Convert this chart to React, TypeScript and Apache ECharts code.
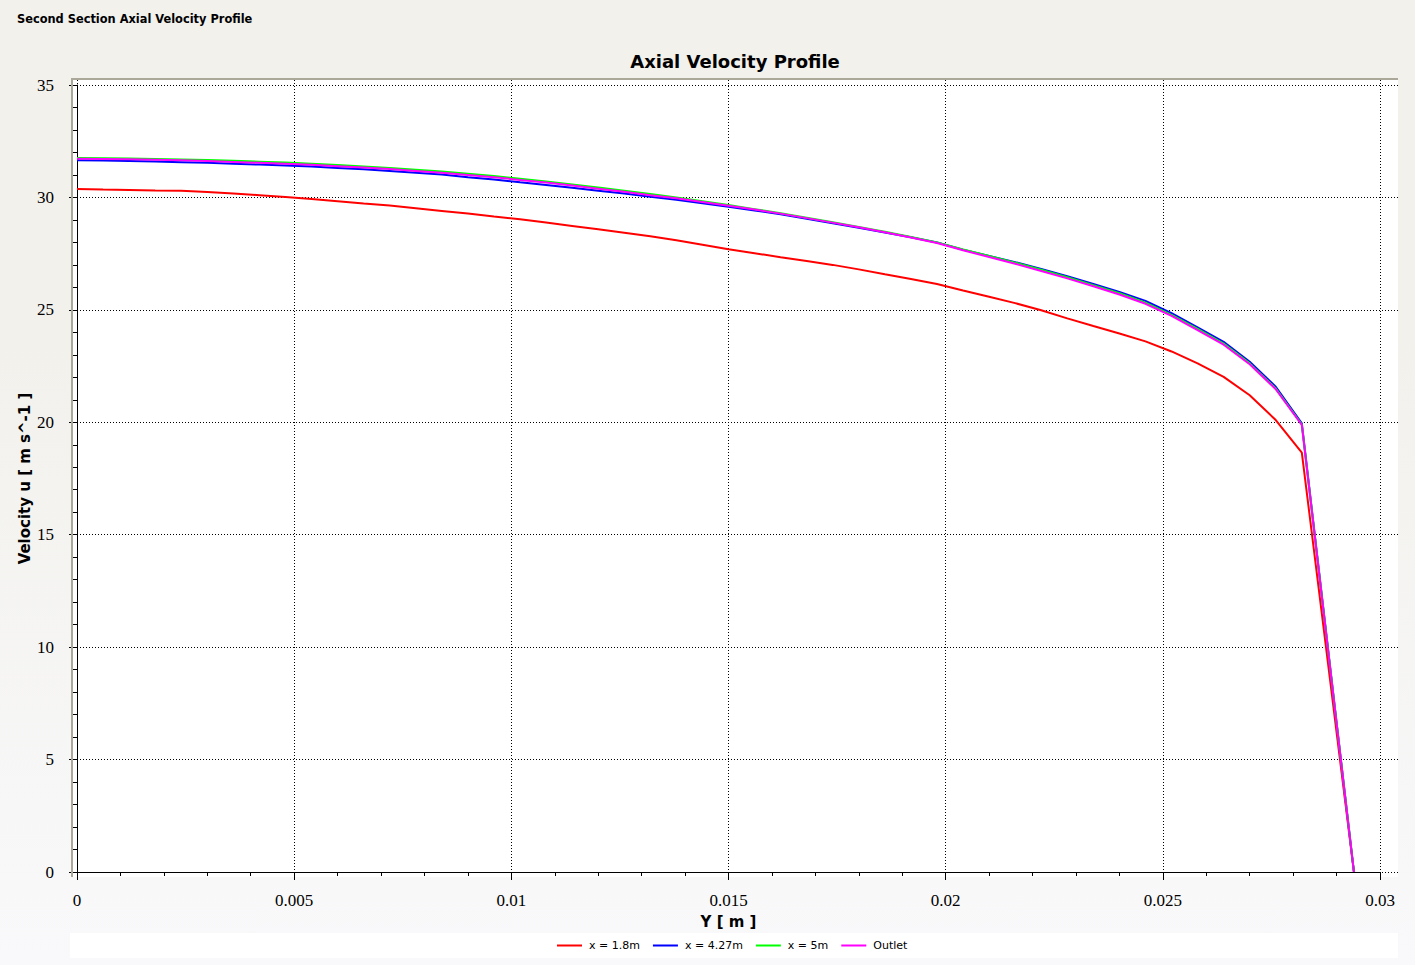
import React, { useEffect, useRef } from "react";
import * as echarts from "echarts";

// Y positions [m]
const Y_POS: number[] = [
  0, 0.0006, 0.0012, 0.0018, 0.0024, 0.003, 0.0036, 0.0042, 0.0048, 0.0054,
  0.006, 0.0066, 0.0072, 0.0078, 0.0084, 0.009, 0.0096, 0.0102, 0.0108, 0.0114,
  0.012, 0.0126, 0.0132, 0.0138, 0.0144, 0.015, 0.0156, 0.0162, 0.0168, 0.0174,
  0.018, 0.0186, 0.0192, 0.0198, 0.0204, 0.021, 0.0216, 0.0222, 0.0228, 0.0234,
  0.024, 0.0246, 0.0252, 0.0258, 0.0264, 0.027, 0.0276, 0.0282, 0.0294,
];

const U_1_8: number[] = [
  30.38, 30.35, 30.33, 30.31, 30.3, 30.24, 30.18, 30.1, 30.02, 29.93,
  29.83, 29.73, 29.64, 29.52, 29.4, 29.28, 29.15, 29.03, 28.88, 28.73,
  28.58, 28.43, 28.27, 28.1, 27.9, 27.7, 27.52, 27.34, 27.17, 27.0,
  26.8, 26.58, 26.37, 26.15, 25.86, 25.58, 25.3, 24.98, 24.62, 24.28,
  23.95, 23.6, 23.15, 22.62, 22.02, 21.2, 20.1, 18.65, 0,
];

const U_4_27: number[] = [
  31.65, 31.64, 31.62, 31.6, 31.57, 31.54, 31.5, 31.46, 31.42, 31.37,
  31.31, 31.25, 31.18, 31.1, 31.02, 30.9, 30.8, 30.67, 30.55, 30.43,
  30.3, 30.17, 30.03, 29.9, 29.74, 29.58, 29.42, 29.25, 29.05, 28.85,
  28.65, 28.44, 28.23, 28.0, 27.67, 27.4, 27.12, 26.82, 26.5, 26.15,
  25.8, 25.4, 24.85, 24.22, 23.58, 22.69, 21.58, 19.95, 0,
];

const U_5: number[] = [
  31.75, 31.74, 31.73, 31.71, 31.69, 31.66, 31.63, 31.59, 31.55, 31.5,
  31.44, 31.38, 31.31, 31.23, 31.15, 31.05, 30.95, 30.83, 30.71, 30.58,
  30.44, 30.3, 30.15, 30.0, 29.83, 29.66, 29.48, 29.3, 29.1, 28.9,
  28.69, 28.47, 28.24, 28.0, 27.69, 27.4, 27.1, 26.78, 26.45, 26.1,
  25.74, 25.32, 24.78, 24.15, 23.5, 22.62, 21.5, 19.9, 0,
];

const U_OUTLET: number[] = [
  31.72, 31.71, 31.7, 31.68, 31.65, 31.62, 31.58, 31.54, 31.5, 31.45,
  31.39, 31.33, 31.26, 31.18, 31.1, 31.0, 30.9, 30.78, 30.66, 30.53,
  30.39, 30.25, 30.1, 29.96, 29.8, 29.63, 29.46, 29.28, 29.08, 28.88,
  28.67, 28.45, 28.22, 27.97, 27.65, 27.35, 27.05, 26.73, 26.4, 26.05,
  25.68, 25.27, 24.73, 24.1, 23.45, 22.58, 21.47, 19.88, 0,
];

const SERIES_NAMES: string[] = ["x = 1.8m", "x = 4.27m", "x = 5m", "Outlet"];
const SERIES_COLORS: string[] = ["#ff0000", "#0000ff", "#00ff00", "#ff00ff"];
const SERIES_VALUES: number[][] = [U_1_8, U_4_27, U_5, U_OUTLET];

const X_MIN = 0;
const X_MAX = 0.03;
const X_STEP = 0.005;
const Y_MIN = 0;
const Y_MAX = 35;
const Y_STEP = 5;

const TITLE = "Axial Velocity Profile";
const WINDOW_TITLE = "Second Section Axial Velocity Profile";
const X_NAME = "Y [ m ]";
const Y_NAME = "Velocity u [ m s^-1 ]";

export default function App() {
  const ref = useRef<HTMLDivElement>(null);

  useEffect(() => {
    if (!ref.current) return;
    const chart = echarts.init(ref.current, null, { renderer: "svg" });

    // layout (pixels)
    const W = 1415;
    const H = 965;
    const boxL = 72, boxR = 1398, boxT = 79, boxB = 877;
    const plotL = 77, plotR = 1380, plotT = 85, plotB = 872;
    const gridTopA = 80;
    // extended ranges so that grid A reaches the box edges
    const xMaxA = X_MAX * (boxR - plotL) / (plotR - plotL);
    const yMaxA = Y_MAX * (plotB - gridTopA) / (plotB - plotT);

    const sansBold = "DejaVu Sans";
    const tickFont = "Liberation Serif";

    const option: any = {
      animation: false,
      backgroundColor: "transparent",
      textStyle: { fontFamily: sansBold },
      graphic: [
        { type: "rect", z: -10, shape: { x: boxL, y: boxT, width: boxR - boxL, height: boxB - boxT }, style: { fill: "#ffffff" } },
        { type: "rect", z: 10, shape: { x: boxL, y: boxT - 1, width: boxR - boxL, height: 2 }, style: { fill: "#aca899" } },
        { type: "rect", z: 10, shape: { x: boxL - 1, y: boxT - 1, width: 2, height: boxB - boxT + 1 }, style: { fill: "#aca899" } },
        { type: "rect", z: -10, shape: { x: 70, y: 933, width: boxR - 70, height: 25 }, style: { fill: "#ffffff" } },
        {
          type: "text", x: 17, y: 19,
          style: { text: WINDOW_TITLE, fontFamily: sansBold, fontWeight: "bold", fontSize: 11.4, fill: "#000", textVerticalAlign: "middle" },
        },
        {
          type: "text", x: (boxL + boxR) / 2, y: 61,
          style: { text: TITLE, fontFamily: sansBold, fontWeight: "bold", fontSize: 18, fill: "#000", textAlign: "center", textVerticalAlign: "middle" },
        },
        {
          type: "text", x: 25, y: (plotT + plotB) / 2, rotation: Math.PI / 2,
          style: { text: Y_NAME, fontFamily: sansBold, fontWeight: "bold", fontSize: 15, fill: "#000", textAlign: "center", textVerticalAlign: "middle" },
        },
      ],
      legend: {
        data: SERIES_NAMES,
        left: 552,
        top: 935,
        icon: "rect",
        itemWidth: 25,
        itemHeight: 2,
        itemGap: 13,
        textStyle: { fontFamily: "DejaVu Sans", fontSize: 11, color: "#000", padding: [0, 0, 0, 2] },
      },
      grid: [
        { left: plotL, right: W - boxR, top: gridTopA, bottom: H - plotB, containLabel: false },
        { left: plotL, right: W - plotR, top: plotT, bottom: H - plotB, containLabel: false },
      ],
      xAxis: [
        {
          type: "value", gridIndex: 0, min: X_MIN, max: xMaxA, interval: X_STEP,
          axisLine: { show: false }, axisTick: { show: false }, axisLabel: { show: false },
          splitLine: { show: true, showMaxLine: false, lineStyle: { color: "#000", width: 1, type: [1, 2] } },
        },
        {
          type: "value", gridIndex: 1, min: X_MIN, max: X_MAX, interval: X_STEP, position: "bottom", offset: 10,
          name: X_NAME, nameLocation: "middle", nameGap: 32,
          nameTextStyle: { fontFamily: sansBold, fontWeight: "bold", fontSize: 15, color: "#000" },
          axisLine: { show: true, lineStyle: { color: "#000", width: 1 } },
          axisTick: { show: true, inside: false, length: 8, lineStyle: { color: "#000" } },
          minorTick: { show: true, splitNumber: 5, length: 4, lineStyle: { color: "#000" } },
          axisLabel: { show: true, margin: 10, fontFamily: tickFont, fontSize: 17, color: "#000" },
          splitLine: { show: false },
        },
      ],
      yAxis: [
        {
          type: "value", gridIndex: 0, min: Y_MIN, max: yMaxA, interval: Y_STEP,
          axisLine: { show: false }, axisTick: { show: false }, axisLabel: { show: false },
          splitLine: { show: true, showMaxLine: false, lineStyle: { color: "#000", width: 1, type: [1, 2] } },
        },
        {
          type: "value", gridIndex: 1, min: Y_MIN, max: Y_MAX, interval: Y_STEP, position: "left", offset: 9,
          axisLine: { show: true, lineStyle: { color: "#000", width: 1 } },
          axisTick: { show: true, inside: false, length: 8, lineStyle: { color: "#000" } },
          minorTick: { show: true, splitNumber: 5, length: 5, lineStyle: { color: "#000" } },
          axisLabel: { show: true, margin: 14, fontFamily: tickFont, fontSize: 17, color: "#000" },
          splitLine: { show: false },
        },
      ],
      series: SERIES_NAMES.map((name, k) => ({
        name,
        type: "line",
        xAxisIndex: 0,
        yAxisIndex: 0,
        showSymbol: false,
        symbol: "none",
        color: SERIES_COLORS[k],
        lineStyle: { color: SERIES_COLORS[k], width: 2 },
        data: Y_POS.map((y, i) => [y, SERIES_VALUES[k][i]]),
      })),
    };

    chart.setOption(option);
    return () => chart.dispose();
  }, []);

  return (
    <div
      style={{
        position: "absolute",
        left: 0,
        top: 0,
        width: 1415,
        height: 965,
        background: "linear-gradient(to bottom, #f2f1ec 0%, #f2f1ec 35%, #f9f9fb 100%)",
      }}
    >
      <div ref={ref} style={{ width: 1415, height: 965 }} />
    </div>
  );
}
